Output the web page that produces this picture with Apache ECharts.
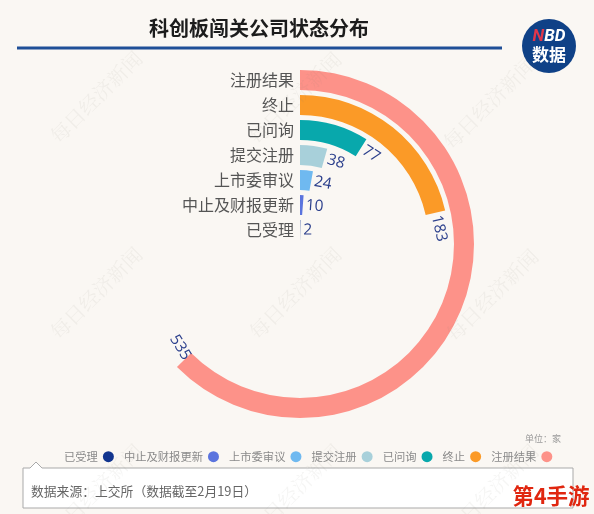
<!DOCTYPE html>
<html><head><meta charset="utf-8">
<style>html,body{margin:0;padding:0;background:#faf7f3}#c{width:594px;height:514px}</style>
<script src="https://cdn.jsdelivr.net/npm/echarts@6/dist/echarts.min.js"></script>
</head><body><div id="c"></div>
<script>
const categories = ['已受理','中止及财报更新','上市委审议','提交注册','已问询','终止','注册结果'];
const values = [2,10,24,38,77,183,535];
const colors = ['#12358f','#5b74de','#6fb9f0','#a8d0da','#08a8ac','#fb9a27','#fd9289'];
const angleMax = 856;
const titleText = '科创板闯关公司状态分布';
const sourceText = '数据来源：上交所（数据截至2月19日）';
const unitText = '单位：家';
const watermarkText = '每日经济新闻';
const cjk = '"Noto Sans CJK SC","Noto Sans",sans-serif';

const watermarks = [[96,97],[295,98],[489,103],[96,293],[295,293],[492,295],[96,490],[295,490],[492,490]].map(p=>({
  type:'text',x:p[0],y:p[1],rotation:Math.PI/4,z:20,silent:true,
  style:{text:watermarkText,font:'20px "Noto Serif CJK SC","Noto Sans CJK SC",serif',fill:'rgba(130,125,115,0.08)',align:'center',verticalAlign:'middle'}
}));

const chart = echarts.init(document.getElementById('c'),null,{renderer:'canvas'});
chart.setOption({
  backgroundColor:'#faf7f3',
  animation:false,
  polar:{center:[300,244],radius:[1.5,176.5]},
  angleAxis:{type:'value',min:0,max:angleMax,startAngle:90,clockwise:true,show:false},
  radiusAxis:{type:'category',data:categories,z:10,
    axisLine:{show:false},axisTick:{show:false},
    axisLabel:{show:true,interval:0,margin:6,fontSize:16,color:'#555',fontFamily:cjk}},
  legend:{left:59,top:446,align:'right',itemWidth:11,itemHeight:11,itemGap:10,icon:'circle',
    textStyle:{fontSize:11.3,color:'#8a8a8a',fontFamily:cjk},
    data:categories},
  series:categories.map((name,i)=>{
    const last = i===categories.length-1;
    return {
      type:'bar',name,coordinateSystem:'polar',stack:'all',barWidth:20,
      itemStyle:{color:colors[i]},
      label:{show:true,position:'end',rotate:last?-45:'tangential',distance:3,offset:last?[-23,-4]:[0,0],
        fontFamily:'"Open Sans",sans-serif',fontSize:15.5,color:'#2b3f8c'},
      data:categories.map((c,j)=>j===i?values[i]:'-')
    };
  }),
  graphic:[
    ...watermarks,
    {type:'text',x:259,y:28,z:5,style:{text:titleText,font:'bold 20px '+cjk,fill:'#1c1c1c',align:'center',verticalAlign:'middle'}},
    {type:'rect',z:5,shape:{x:17,y:46.5,width:485,height:3},style:{fill:'#1f4f97'}},
    {type:'circle',z:5,shape:{cx:549,cy:46,r:27},style:{fill:'#0f4187'}},
    {type:'text',x:549,y:37,z:6,style:{rich:{n:{fontFamily:'Roboto,sans-serif',fontWeight:'bold',fontStyle:'italic',fontSize:17,fill:'#e0364a'},b:{fontFamily:'Roboto,sans-serif',fontWeight:'bold',fontStyle:'italic',fontSize:17,fill:'#fff'}},text:'{n|N}{b|BD}',align:'center',verticalAlign:'middle'}},
    {type:'text',x:549,y:55,z:6,style:{text:'数据',font:'bold 17px '+cjk,fill:'#fff',align:'center',verticalAlign:'middle'}},
    {type:'text',x:561,y:439,z:5,style:{text:unitText,font:'9px '+cjk,fill:'#9a9a9a',align:'right',verticalAlign:'middle'}},
    {type:'polygon',z:4,shape:{points:[[23,468],[30,468],[36,462],[42,468],[573,468],[573,508],[23,508]]},style:{fill:'#fff',stroke:'#a9a9a9',lineWidth:1}},
    {type:'text',x:31,y:491,z:5,style:{text:sourceText,font:'12.8px '+cjk,fill:'#666',align:'left',verticalAlign:'middle'}},
    {type:'text',x:551,y:496,z:21,style:{text:'第4手游',font:'bold 21.5px '+cjk,fill:'#e0260f',align:'center',verticalAlign:'middle'}}
  ]
});
</script></body></html>
